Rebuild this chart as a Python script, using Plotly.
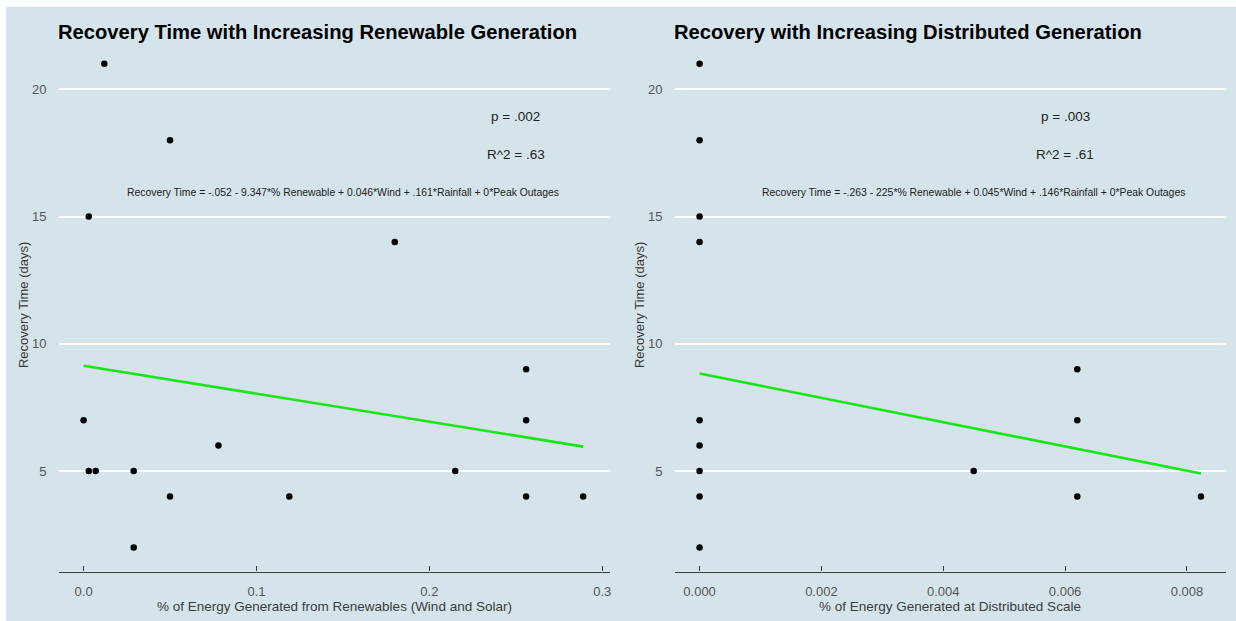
import plotly.graph_objects as go

# --- data -----------------------------------------------------------------
# Share of energy from wind + solar vs. recovery time (days)
renew_share = [0.0, 0.003, 0.003, 0.007, 0.012, 0.029, 0.029, 0.05, 0.05,
               0.078, 0.119, 0.18, 0.215, 0.256, 0.256, 0.256, 0.289]
renew_days = [7, 5, 15, 5, 21, 5, 2, 4, 18,
              6, 4, 14, 5, 9, 7, 4, 4]

# Share of energy generated at distributed scale vs. recovery time (days)
dist_share = [0.0, 0.0, 0.0, 0.0, 0.0, 0.0, 0.0, 0.0, 0.0,
              0.0045, 0.0062, 0.0062, 0.0062, 0.00823]
dist_days = [21, 18, 15, 14, 7, 6, 5, 4, 2,
             5, 9, 7, 4, 4]

# Fitted regression lines (end points)
renew_fit_x = [0.0, 0.289]
renew_fit_y = [9.14, 5.96]
dist_fit_x = [0.0, 0.00823]
dist_fit_y = [8.83, 4.90]

y_ticks = [5, 10, 15, 20]
renew_ticks = [0.0, 0.1, 0.2, 0.3]
renew_tick_text = ["0.0", "0.1", "0.2", "0.3"]
dist_ticks = [0.0, 0.002, 0.004, 0.006, 0.008]
dist_tick_text = ["0.000", "0.002", "0.004", "0.006", "0.008"]

titles = ["Recovery Time with Increasing Renewable Generation",
          "Recovery with Increasing Distributed Generation"]
x_titles = ["% of Energy Generated from Renewables (Wind and Solar)",
            "% of Energy Generated at Distributed Scale"]
y_title = "Recovery Time (days)"
p_vals = ["p = .002", "p = .003"]
r2_vals = ["R^2 = .63", "R^2 = .61"]
equations = [
    "Recovery Time = -.052 - 9.347*% Renewable + 0.046*Wind + .161*Rainfall + 0*Peak Outages",
    "Recovery Time = -.263 - 225*% Renewable + 0.045*Wind + .146*Rainfall + 0*Peak Outages",
]

# --- styling --------------------------------------------------------------
W, H = 1236, 621
BG = "#d5e4eb"
FONT = "Liberation Sans, Arial, Helvetica, sans-serif"
AXIS_COL = "#3c3c3c"
TICK_COL = "#555555"
GREEN = "#17e617"

# pixel layout of the two panels
left_px = [(58.5, 610.0), (674.5, 1226.0)]
top_px, bottom_px = 39.6, 571.6


def px_x(v):
    return v / W


def px_y(v):
    return 1 - v / H


fig = go.Figure()

panels = [
    (renew_share, renew_days, renew_fit_x, renew_fit_y, "x", "y"),
    (dist_share, dist_days, dist_fit_x, dist_fit_y, "x2", "y2"),
]
for xs, ys, fx, fy, xa, ya in panels:
    fig.add_trace(go.Scatter(x=fx, y=fy, mode="lines", xaxis=xa, yaxis=ya,
                             line=dict(color=GREEN, width=2.6),
                             showlegend=False, hoverinfo="skip"))
    fig.add_trace(go.Scatter(x=xs, y=ys, mode="markers", xaxis=xa, yaxis=ya,
                             marker=dict(color="black", size=6.5),
                             showlegend=False))

y_common = dict(
    range=[1.05, 21.95], tickvals=y_ticks, showgrid=True, gridcolor="white",
    gridwidth=2, zeroline=False, showline=False, ticks="",
    tickfont=dict(family=FONT, size=13, color=TICK_COL),
    ticklabelstandoff=11, automargin=False,
    domain=[px_y(bottom_px), px_y(top_px)],
)
x_common = dict(
    showgrid=False, zeroline=False, showline=True, linecolor=AXIS_COL,
    linewidth=1.3, ticks="inside", ticklen=5, tickwidth=1.3,
    tickcolor=AXIS_COL, tickfont=dict(family=FONT, size=13, color=TICK_COL),
    ticklabelstandoff=8, automargin=False,
)

fig.update_layout(
    width=W, height=H,
    margin=dict(l=0, r=0, t=0, b=0),
    paper_bgcolor=BG, plot_bgcolor=BG,
    font=dict(family=FONT),
    xaxis=dict(x_common, range=[-0.0145, 0.3045], tickvals=renew_ticks,
               ticktext=renew_tick_text,
               domain=[px_x(left_px[0][0]), px_x(left_px[0][1])], anchor="y"),
    xaxis2=dict(x_common, range=[-0.0004115, 0.0086415], tickvals=dist_ticks,
                ticktext=dist_tick_text,
                domain=[px_x(left_px[1][0]), px_x(left_px[1][1])], anchor="y2"),
    yaxis=dict(y_common, anchor="x"),
    yaxis2=dict(y_common, anchor="x2"),
)

annotations = []
for i in range(2):
    x0, x1 = left_px[i]
    # panel title
    annotations.append(dict(
        text=f"<b>{titles[i]}</b>", xref="paper", yref="paper",
        x=px_x(x0 - 3), y=px_y(31.5), xanchor="left", yanchor="middle",
        showarrow=False, font=dict(family=FONT, size=20.2, color="black")))
    # x axis title
    annotations.append(dict(
        text=x_titles[i], xref="paper", yref="paper",
        x=px_x((x0 + x1) / 2), y=px_y(606), xanchor="center",
        yanchor="middle", showarrow=False,
        font=dict(family=FONT, size=13.5, color=AXIS_COL)))
    # y axis title
    annotations.append(dict(
        text=y_title, xref="paper", yref="paper", textangle=-90,
        x=px_x(x0 - 35), y=px_y((top_px + bottom_px) / 2), xanchor="center",
        yanchor="middle", showarrow=False,
        font=dict(family=FONT, size=13, color=AXIS_COL)))

stats_pos = [(0.25, 0.15), (0.006, 0.0045)]
for i, (xa, ya) in enumerate([("x", "y"), ("x2", "y2")]):
    sx, ex = stats_pos[i]
    annotations.append(dict(text=p_vals[i], xref=xa, yref=ya, x=sx, y=18.92,
                            showarrow=False,
                            font=dict(family=FONT, size=13.5, color="#222222")))
    annotations.append(dict(text=r2_vals[i], xref=xa, yref=ya, x=sx, y=17.42,
                            showarrow=False,
                            font=dict(family=FONT, size=13.5, color="#222222")))
    annotations.append(dict(text=equations[i], xref=xa, yref=ya, x=ex, y=15.95,
                            showarrow=False,
                            font=dict(family=FONT, size=10.4, color="#222222")))

fig.update_layout(annotations=annotations)

# white strips along the top and left edges of the canvas
fig.update_layout(shapes=[
    dict(type="rect", xref="paper", yref="paper", x0=0, x1=1, y0=px_y(7),
         y1=1, fillcolor="white", line=dict(width=0), layer="below"),
    dict(type="rect", xref="paper", yref="paper", x0=0, x1=px_x(6), y0=0,
         y1=1, fillcolor="white", line=dict(width=0), layer="below"),
])

fig.write_html("out.html")
